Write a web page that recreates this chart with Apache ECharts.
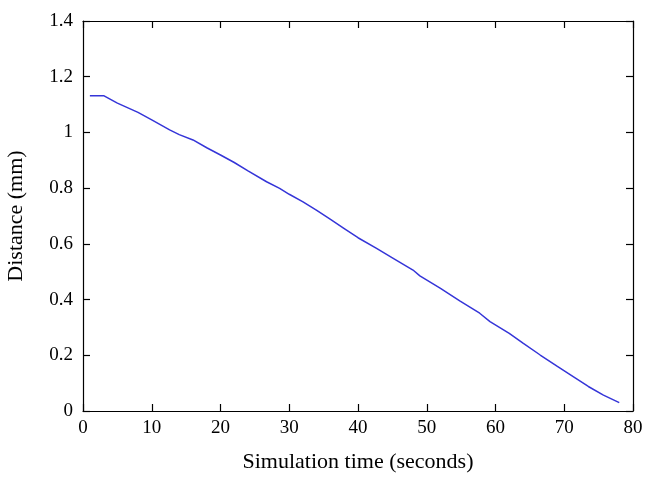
<!DOCTYPE html>
<html><head><meta charset="utf-8">
<script src="https://cdn.jsdelivr.net/npm/echarts@6/dist/echarts.min.js"></script>
<style>html,body{margin:0;padding:0;background:#fff}#c{width:657px;height:486px}</style>
</head><body><div id="c"></div>
<script>
const timeSec = [1, 3, 5, 8, 10, 12.6, 14, 16, 18, 20, 22, 24, 26.7, 28.6, 30, 32, 34, 36, 38, 40, 42.7, 45, 48, 49, 52, 54.8, 57.7, 59.2, 62, 64, 66.5, 69, 71.3, 73.5, 75.7, 78];
const distanceMm = [1.132, 1.132, 1.105, 1.072, 1.045, 1.009, 0.992, 0.973, 0.945, 0.919, 0.892, 0.862, 0.823, 0.799, 0.778, 0.751, 0.720, 0.688, 0.655, 0.622, 0.584, 0.550, 0.506, 0.485, 0.440, 0.395, 0.351, 0.321, 0.279, 0.244, 0.201, 0.160, 0.123, 0.088, 0.057, 0.030];
const xTicks = [0, 10, 20, 30, 40, 50, 60, 70, 80];
const yTicks = [0, 0.2, 0.4, 0.6, 0.8, 1, 1.2, 1.4];

const font = '"Liberation Serif", "DejaVu Serif", serif';
const mkLine = () => ({show: true, onZero: false, lineStyle: {color: '#000', width: 1.2}});
const mkTick = () => ({show: true, inside: true, length: 7, lineStyle: {color: '#000', width: 1.2}});
const chart = echarts.init(document.getElementById('c'));
chart.setOption({
  animation: false,
  grid: {left: 83, right: 24, top: 21, bottom: 75, containLabel: false, outerBoundsMode: 'none'},
  xAxis: [{
    type: 'value', min: xTicks[0], max: xTicks[xTicks.length-1], interval: 10,
    position: 'bottom',
    name: 'Simulation time (seconds)', nameLocation: 'middle', nameGap: 40,
    nameTextStyle: {fontFamily: font, fontSize: 22, color: '#000'},
    axisLine: mkLine(), axisTick: mkTick(), splitLine: {show: false},
    axisLabel: {fontFamily: font, fontSize: 19, color: '#000', margin: 8}
  }, {
    type: 'value', min: xTicks[0], max: xTicks[xTicks.length-1], interval: 10,
    position: 'top', axisLine: mkLine(), axisTick: mkTick(), splitLine: {show: false}, axisLabel: {show: false}
  }],
  yAxis: [{
    type: 'value', min: yTicks[0], max: yTicks[yTicks.length-1], interval: 0.2,
    position: 'left',
    name: 'Distance (mm)', nameLocation: 'middle', nameGap: 56,
    nameTextStyle: {fontFamily: font, fontSize: 22, color: '#000'},
    axisLine: mkLine(), axisTick: mkTick(), splitLine: {show: false},
    axisLabel: {fontFamily: font, fontSize: 19, color: '#000', margin: 10,
      formatter: v => String(Math.round(v * 10) / 10)}
  }, {
    type: 'value', min: yTicks[0], max: yTicks[yTicks.length-1], interval: 0.2,
    position: 'right', axisLine: mkLine(), axisTick: mkTick(), splitLine: {show: false}, axisLabel: {show: false}
  }],
  series: [{
    type: 'line', xAxisIndex: 0, yAxisIndex: 0,
    data: timeSec.map((t, i) => [t, distanceMm[i]]),
    showSymbol: false, symbol: 'none',
    lineStyle: {color: '#3535d8', width: 1.5}
  }]
});
</script></body></html>
